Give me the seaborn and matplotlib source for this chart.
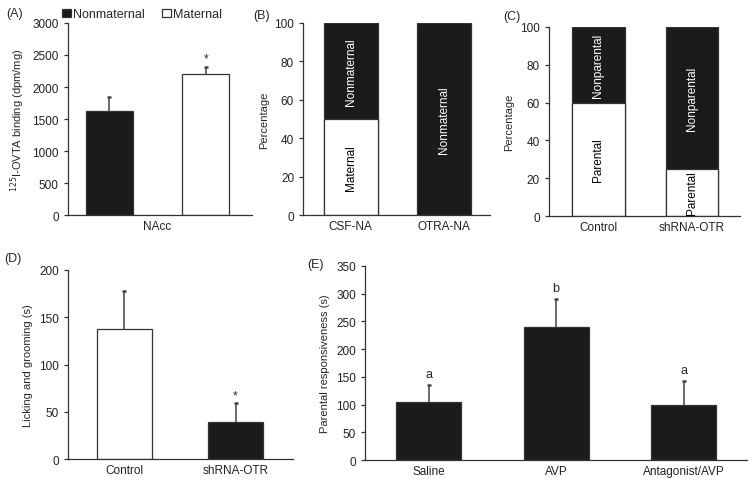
import matplotlib
matplotlib.use("Agg")
import matplotlib.pyplot as plt
import seaborn as sns
import numpy as np
import pandas as pd

# Panel A: 125I-OVTA binding in NAcc
a_groups = ["Nonmaternal", "Maternal"]
a_means = [1630, 2200]
a_errs = [220, 120]

# Panel B: percentage maternal / nonmaternal
b_groups = ["CSF-NA", "OTRA-NA"]
b_maternal = [50, 0]

# Panel C: percentage parental / nonparental
c_groups = ["Control", "shRNA-OTR"]
c_parental = [60, 25]

# Panel D: licking and grooming
d_groups = ["Control", "shRNA-OTR"]
d_means = [138, 39]
d_errs = [40, 20]

# Panel E: parental responsiveness
e_groups = ["Saline", "AVP", "Antagonist/AVP"]
e_means = [105, 240, 100]
e_errs = [30, 50, 42]
e_letters = ["a", "b", "a"]

sns.set_theme(style="ticks")
plt.rcParams["font.family"] = ["Liberation Sans", "DejaVu Sans"]
plt.rcParams.update({"font.size": 8.5, "axes.edgecolor": "#333333",
                     "axes.linewidth": 0.9, "xtick.color": "#222222",
                     "ytick.color": "#333333", "ytick.labelcolor": "#222222",
                     "ytick.major.size": 3, "ytick.major.width": 0.9,
                     "xtick.major.size": 0})

BLACK = "#1b1b1b"
EDGE = "#333333"
FS = 8.5
FL = 8.0

fig = plt.figure(figsize=(7.54, 4.89), dpi=100)


def style(ax):
    sns.despine(ax=ax)
    ax.tick_params(axis="both", labelsize=FS)
    ax.set_xlabel("")


def errs(ax, means, err):
    cont = ax.errorbar(x=np.arange(len(means)), y=means,
                       yerr=[np.zeros(len(err)), err], fmt="none",
                       ecolor="#444444", elinewidth=1.1, capsize=1.6, capthick=1.8)
    # keep only the upper cap
    caps = cont.lines[1]
    if len(caps) > 1:
        caps[0].set_visible(False)


# (A)
axA = fig.add_axes([0.090, 0.558, 0.244, 0.393])
sns.barplot(x=a_groups, y=a_means, hue=a_groups, palette=[BLACK, "white"],
            edgecolor=EDGE, linewidth=0.9, width=0.49, legend=False, ax=axA)
errs(axA, a_means, a_errs)
axA.text(1, a_means[1] + a_errs[1] + 40, "*", ha="center", va="bottom", fontsize=FS)
axA.set_ylim(0, 3000)
axA.set_yticks(range(0, 3001, 500))
axA.set_xlim(-0.43, 1.48)
axA.set_xticks([0.5])
axA.set_xticklabels(["NAcc"])
axA.set_ylabel("$^{125}$I-OVTA binding (dpm/mg)", fontsize=FL)
style(axA)
axA.legend(handles=axA.patches[:2], labels=a_groups, ncol=2, loc="lower left",
           bbox_to_anchor=(-0.07, 0.975), frameon=False, fontsize=FS + 0.5,
           handlelength=0.7, handleheight=0.7, handletextpad=0.15,
           columnspacing=1.4, borderaxespad=0.2)

# (B)
axB = fig.add_axes([0.402, 0.558, 0.248, 0.393])
sns.barplot(x=b_groups, y=[100] * len(b_groups), color=BLACK, edgecolor=EDGE,
            linewidth=0.9, width=0.58, ax=axB)
sns.barplot(x=b_groups, y=b_maternal, color="white", edgecolor=EDGE,
            linewidth=0.9, width=0.58, ax=axB)
for i, m in enumerate(b_maternal):
    if m > 0:
        axB.text(i, m / 2, "Maternal", rotation=90, ha="center", va="center",
                 color="black", fontsize=FS)
    axB.text(i, m + (100 - m) / 2, "Nonmaternal", rotation=90, ha="center",
             va="center", color="white", fontsize=FS)
axB.set_ylim(0, 100)
axB.set_xlim(-0.51, 1.49)
axB.set_ylabel("Percentage", fontsize=FL)
style(axB)

# (C)
axC = fig.add_axes([0.728, 0.556, 0.253, 0.387])
sns.barplot(x=c_groups, y=[100] * len(c_groups), color=BLACK, edgecolor=EDGE,
            linewidth=0.9, width=0.56, ax=axC)
sns.barplot(x=c_groups, y=c_parental, color="white", edgecolor=EDGE,
            linewidth=0.9, width=0.56, ax=axC)
for i, p in enumerate(c_parental):
    axC.text(i, p / 2, "Parental", rotation=90, ha="center", va="center",
             color="black", fontsize=FS)
    axC.text(i, p + (100 - p) / 2, "Nonparental", rotation=90, ha="center",
             va="center", color="white", fontsize=FS)
axC.set_ylim(0, 100)
axC.set_xlim(-0.53, 1.51)
axC.set_ylabel("Percentage", fontsize=FL)
style(axC)

# (D)
axD = fig.add_axes([0.090, 0.059, 0.299, 0.387])
sns.barplot(x=d_groups, y=d_means, hue=d_groups, palette=["white", BLACK],
            edgecolor=EDGE, linewidth=0.9, width=0.5, legend=False, ax=axD)
errs(axD, d_means, d_errs)
axD.text(1, d_means[1] + d_errs[1] + 2, "*", ha="center", va="bottom", fontsize=FS)
axD.set_ylim(0, 200)
axD.set_yticks(range(0, 201, 50))
axD.set_xlim(-0.51, 1.52)
axD.set_ylabel("Licking and grooming (s)", fontsize=FL)
style(axD)

# (E)
axE = fig.add_axes([0.484, 0.057, 0.507, 0.397])
sns.barplot(x=e_groups, y=e_means, color=BLACK, edgecolor=EDGE, linewidth=0.9,
            width=0.51, ax=axE)
errs(axE, e_means, e_errs)
for i, lab in enumerate(e_letters):
    axE.text(i, e_means[i] + e_errs[i] + 10, lab, ha="center", va="bottom", fontsize=FS + 0.5)
axE.set_ylim(0, 350)
axE.set_yticks(range(0, 351, 50))
axE.set_xlim(-0.5, 2.5)
axE.set_ylabel("Parental responsiveness (s)", fontsize=FL)
style(axE)

for lab, x, y in [("(A)", 0.008, 0.972), ("(B)", 0.336, 0.968), ("(C)", 0.667, 0.966),
                  ("(D)", 0.006, 0.470), ("(E)", 0.407, 0.458)]:
    fig.text(x, y, lab, fontsize=FS + 0.5, va="center", ha="left")

fig.savefig("out.png", dpi=100, facecolor="white")
